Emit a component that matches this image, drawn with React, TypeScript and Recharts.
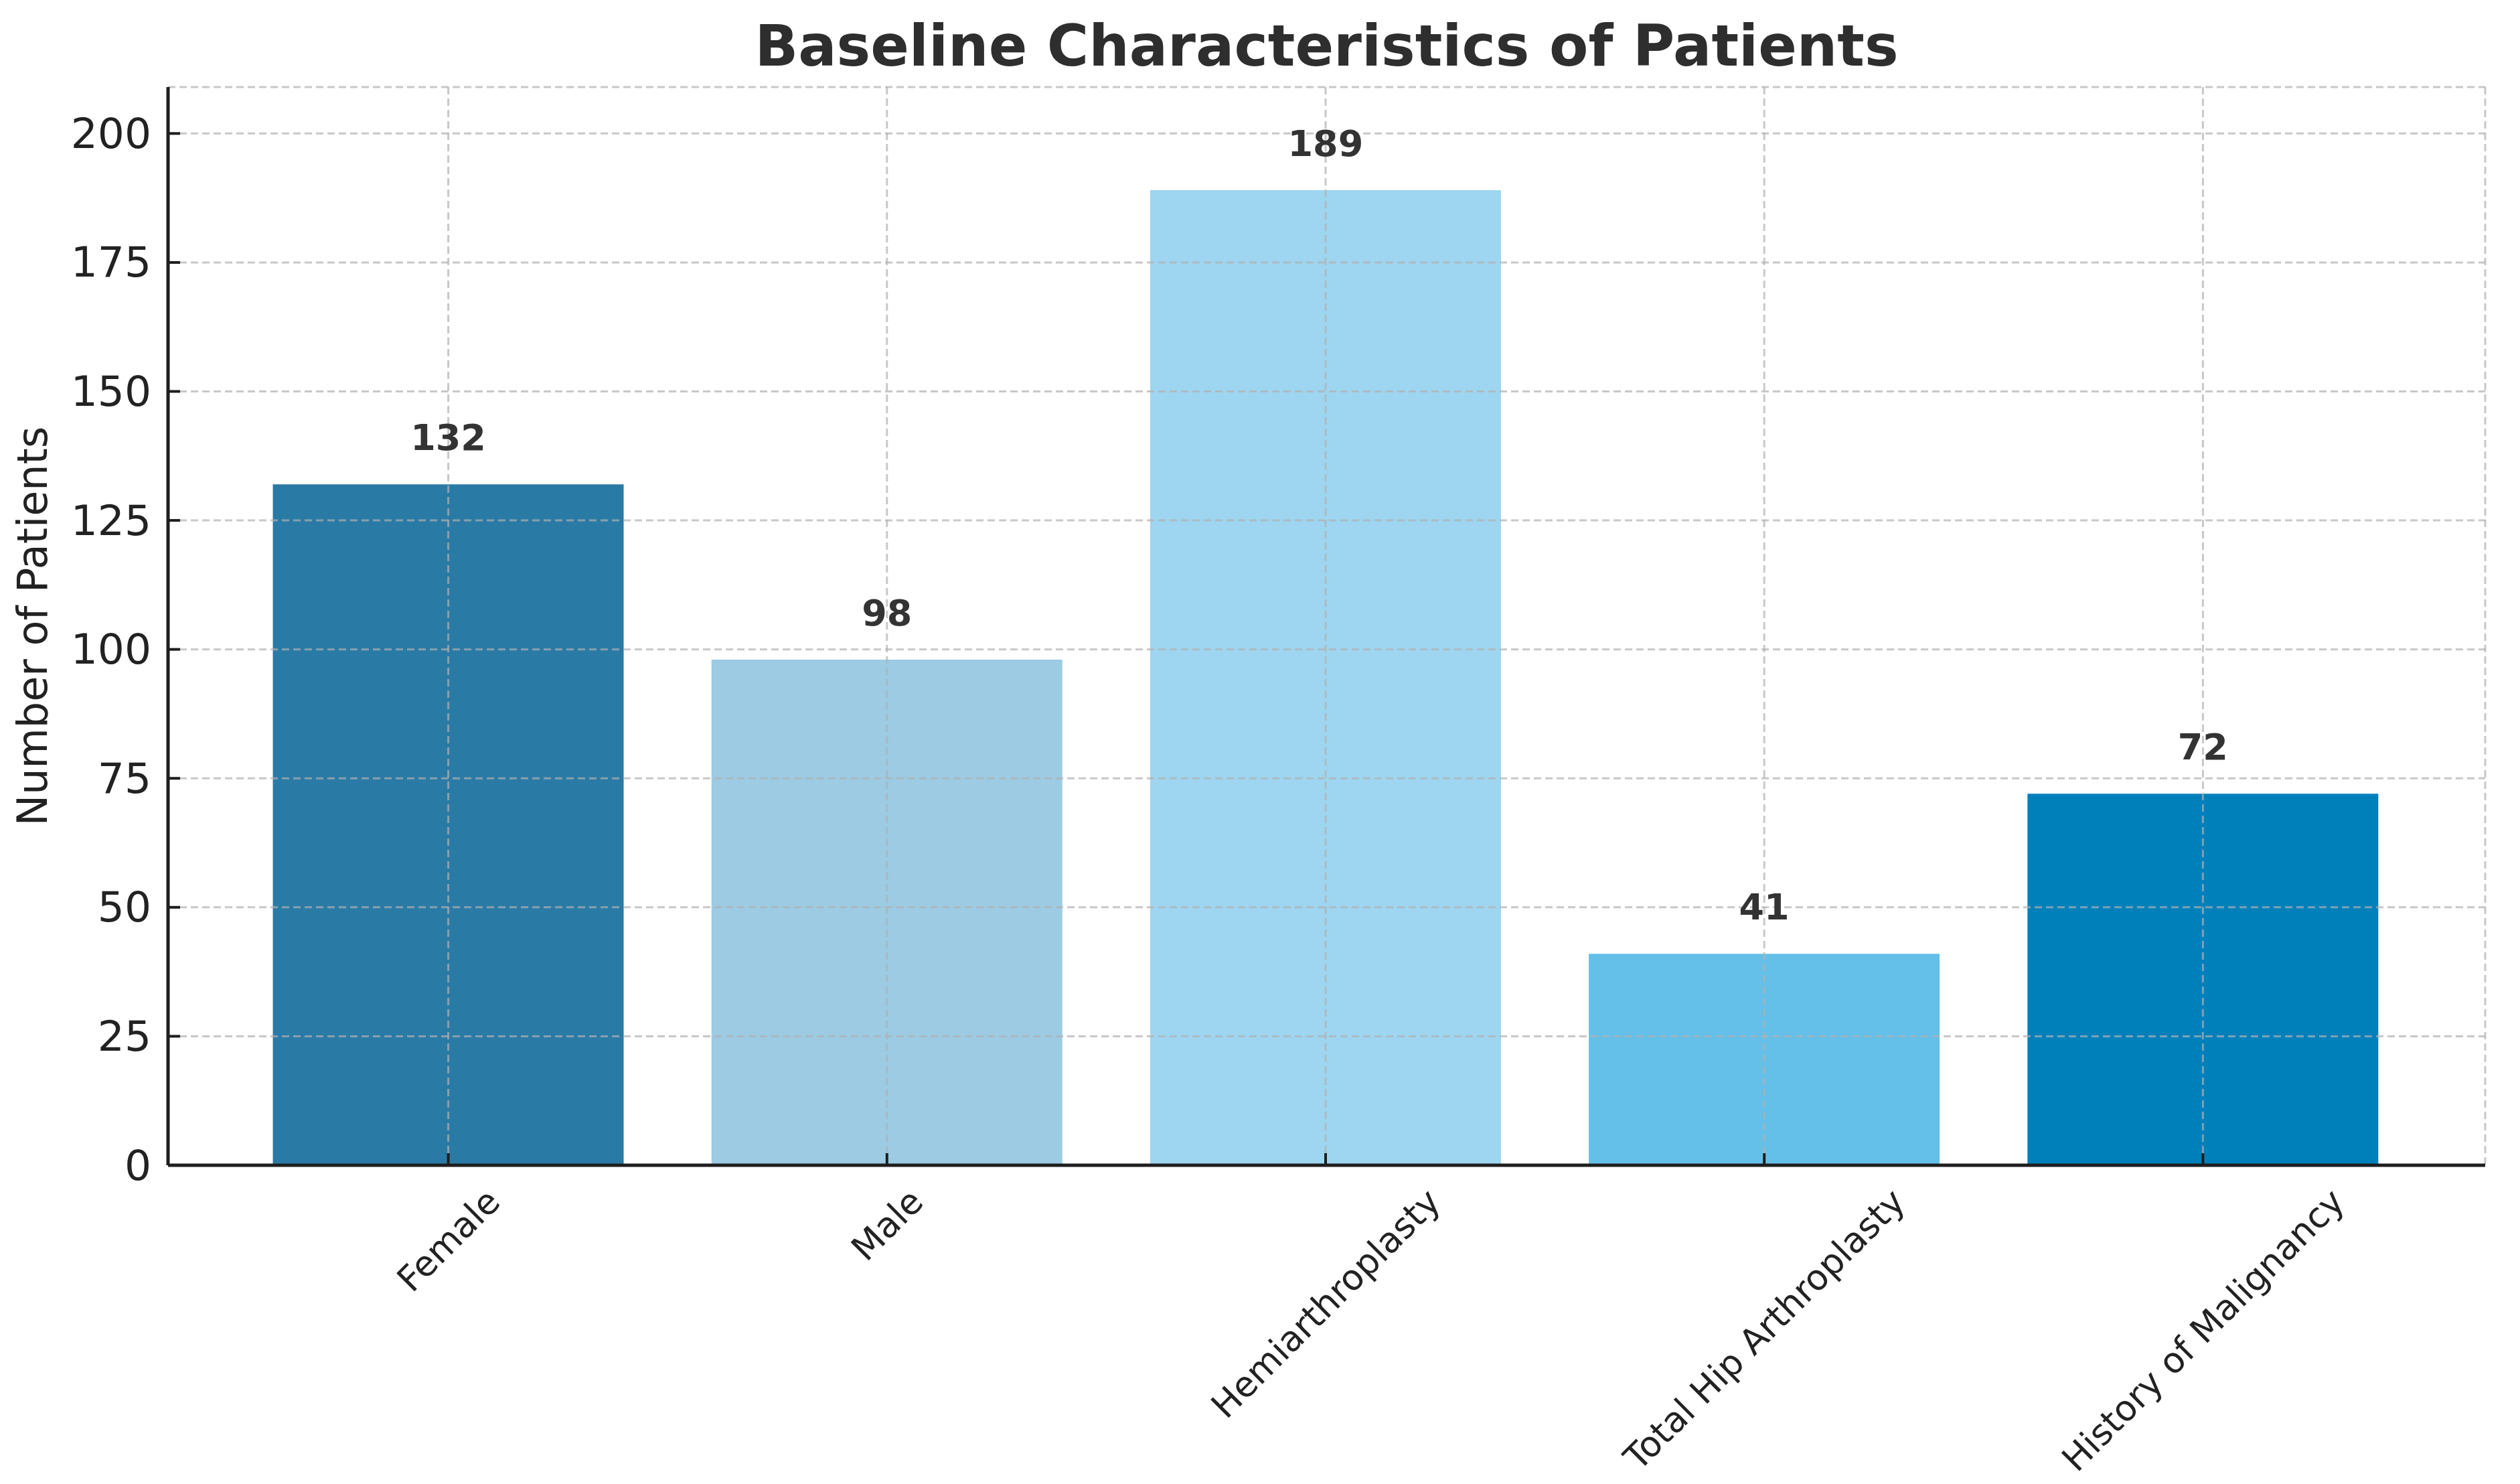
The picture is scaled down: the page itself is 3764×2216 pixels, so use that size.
import React from 'react';
import { BarChart, Bar, XAxis, YAxis, CartesianGrid, Cell, LabelList, Label } from 'recharts';

const categories = ['Female', 'Male', 'Hemiarthroplasty', 'Total Hip Arthroplasty', 'History of Malignancy'];
const patientCounts = [132, 98, 189, 41, 72];
const barColors = ['#2a7aa6', '#9ccbe3', '#9ed5f0', '#64c0e8', '#0080bb'];
const yTicks = [0, 25, 50, 75, 100, 125, 150, 175, 200];
const yDomain = [0, 209];

const chartTitle = 'Baseline Characteristics of Patients';
const yAxisTitle = 'Number of Patients';

const data = categories.map((name, i) => ({ name, value: patientCounts[i], color: barColors[i] }));

const W = 3764;
const H = 2216;
const FONT = "'DejaVu Sans', sans-serif";
const AXIS_COLOR = '#1e1e1e';

let measureCtx: CanvasRenderingContext2D | null = null;
function measure(text: string, font: string): number {
  if (typeof document === 'undefined') return text.length * 30;
  if (!measureCtx) {
    const c = document.createElement('canvas');
    measureCtx = c.getContext('2d');
  }
  if (!measureCtx) return text.length * 30;
  measureCtx.font = font;
  return measureCtx.measureText(text).width;
}

const XTick = (props: any) => {
  const { x, y, payload } = props;
  const fs = 52.5;
  const w = measure(String(payload.value), `${fs}px DejaVu Sans`);
  const bboxH = (w + 0.95 * fs) / Math.SQRT2;
  const top = y + 27;
  const cy = top + bboxH / 2;
  return (
    <g>
      <line x1={x} x2={x} y1={y} y2={y - 18} stroke={AXIS_COLOR} strokeWidth={4} />
      <text
        x={x}
        y={cy}
        textAnchor="middle"
        dominantBaseline="central"
        transform={`rotate(-45 ${x} ${cy})`}
        fontFamily={FONT}
        fontSize={fs}
        fill="#222"
      >
        {payload.value}
      </text>
    </g>
  );
};

const YTick = (props: any) => {
  const { x, y, payload } = props;
  return (
    <g>
      <line x1={x + 25} x2={x + 43} y1={y} y2={y} stroke={AXIS_COLOR} strokeWidth={4} />
      <text x={x} y={y} textAnchor="end" dominantBaseline="central" fontFamily={FONT} fontSize={63} fill="#222">
        {payload.value}
      </text>
    </g>
  );
};

const YLabel = (props: any) => {
  const vb = props.viewBox || { x: 0, y: 0, width: 0, height: 0 };
  const cx = 48;
  const cy = vb.y + vb.height / 2;
  return (
    <text
      x={cx}
      y={cy}
      transform={`rotate(-90 ${cx} ${cy})`}
      textAnchor="middle"
      dominantBaseline="central"
      fontFamily={FONT}
      fontSize={62}
      fill="#222"
    >
      {yAxisTitle}
    </text>
  );
};

export default function App() {
  return (
    <div style={{ position: 'absolute', left: 0, top: 0, width: W, height: H, background: '#fff' }}>
      <div
        style={{
          position: 'absolute',
          left: 251,
          width: 3712 - 251,
          top: 26,
          textAlign: 'center',
          fontFamily: FONT,
          fontWeight: 'bold',
          fontSize: 85,
          lineHeight: '85px',
          color: '#2e2e2e',
          whiteSpace: 'nowrap',
        }}
      >
        {chartTitle}
      </div>
      <BarChart
        width={W}
        height={H}
        data={data}
        margin={{ top: 130, right: 52, bottom: 0, left: 0 }}
        barCategoryGap="10%"
      >
        <Bar dataKey="value" isAnimationActive={false}>
          {data.map((d, i) => (
            <Cell key={i} fill={d.color} />
          ))}
          <LabelList
            dataKey="value"
            position="top"
            offset={51}
            fill="#333333"
            fontFamily={FONT}
            fontWeight="bold"
            fontSize={54}
          />
        </Bar>
        <CartesianGrid
          {...({ zIndex: 500 } as any)}
          stroke="#b0b0b0"
          strokeOpacity={0.7}
          strokeWidth={3}
          strokeDasharray="11 6"
        />
        <XAxis
          {...({ zIndex: 1000 } as any)}
          dataKey="name"
          type="category"
          height={476}
          padding={{ left: 91, right: 94 }}
          axisLine={{ stroke: AXIS_COLOR, strokeWidth: 5 }}
          tickLine={false}
          tickSize={0}
          tickMargin={0}
          interval={0}
          tick={<XTick />}
        />
        <YAxis
          {...({ zIndex: 1000 } as any)}
          type="number"
          domain={yDomain}
          ticks={yTicks}
          width={251}
          axisLine={{ stroke: AXIS_COLOR, strokeWidth: 5 }}
          tickLine={false}
          tickSize={0}
          tickMargin={25}
          interval={0}
          tick={<YTick />}
        >
          <Label content={<YLabel />} />
        </YAxis>
      </BarChart>
    </div>
  );
}
